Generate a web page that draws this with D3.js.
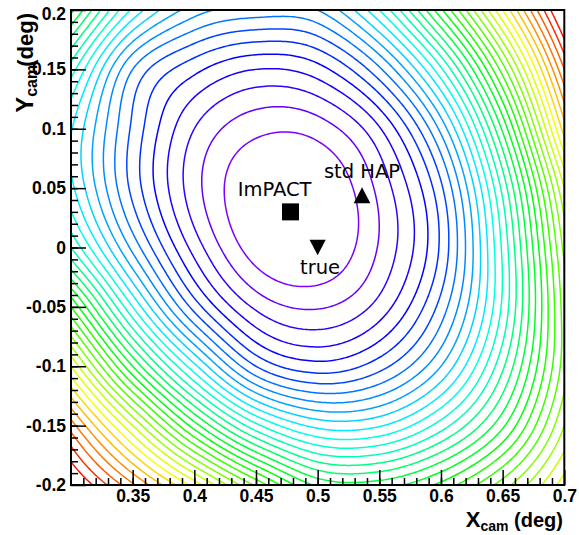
<!DOCTYPE html>
<html>
<head>
<meta charset="utf-8">
<script src="https://cdn.jsdelivr.net/npm/d3@7"></script>
<style>
  html, body { margin: 0; padding: 0; background: #ffffff; }
  svg { display: block; }
</style>
</head>
<body>
<svg id="chart" width="579" height="535"></svg>
<script>
// Likelihood surface sampled every 0.05 deg, in units of the contour step.
const gridX = [0.30, 0.35, 0.40, 0.45, 0.50, 0.55, 0.60, 0.65, 0.70];
const gridY = [0.20, 0.15, 0.10, 0.05, 0.00, -0.05, -0.10, -0.15, -0.20];
const rowY020  = [19.3, 12.8,  9.5,  8.6,  9.0, 13.0, 19.8, 28.0, 37.0];
const rowY015  = [14.5,  8.0,  5.3,  4.0,  4.6,  7.8, 13.8, 22.5, 33.0];
const rowY010  = [12.1,  6.8,  3.0,  1.3, 1.45,  3.9,  9.3, 18.2, 29.5];
const rowY005  = [12.3,  6.7,  2.4, 0.05, -0.09, 2.3,  6.8, 15.3, 26.0];
const rowY000  = [15.0,  8.7,  3.6, 0.45, -0.03, 2.1,  6.2, 14.2, 24.3];
const rowYm005 = [21.0, 13.0,  6.6,  2.8,  1.9,  3.4,  7.4, 14.2, 23.5];
const rowYm010 = [27.0, 19.0, 12.3,  7.0,  5.4,  6.6, 10.0, 15.8, 23.5];
const rowYm015 = [32.5, 26.0, 19.5, 14.3, 11.7, 11.9, 14.5, 18.8, 25.0];
const rowYm020 = [36.5, 32.2, 27.6, 22.8, 18.8, 18.5, 20.3, 23.5, 27.5];

// Contour levels and palette size
const contourLevels = d3.range(1, 36);
const paletteLevels = 36;

// Axis ticks
const xMajorTicks = [0.35, 0.40, 0.45, 0.50, 0.55, 0.60, 0.65, 0.70];
const yMajorTicks = [-0.20, -0.15, -0.10, -0.05, 0.00, 0.05, 0.10, 0.15, 0.20];
const xMinorTicks = d3.range(31, 70).map(d => d / 100);
const yMinorTicks = d3.range(-19, 20).map(d => d / 100);

// Reconstructed source directions
const fitNames  = ["ImPACT", "std HAP", "true"];
const fitX      = [0.478, 0.536, 0.500];
const fitY      = [0.030, 0.044, 0.000];
const fitShape  = ["square", "up", "down"];
const labelX    = [0.4352, 0.5051, 0.4857];
const labelY    = [0.0436, 0.0583, -0.0223];

const svg = d3.select("#chart");
const W = 579, H = 535;
const plot = { left: 71, right: 564.3, top: 10, bottom: 485 };

svg.append("rect").attr("width", W).attr("height", H).attr("fill", "#ffffff");

const x = d3.scaleLinear().domain([0.3, 0.7]).range([plot.left, plot.right]);
const y = d3.scaleLinear().domain([-0.2, 0.2]).range([plot.bottom, plot.top]);

// ---- smooth surface from the coarse grid (Catmull-Rom) ----
const rows = [rowY020, rowY015, rowY010, rowY005, rowY000, rowYm005, rowYm010, rowYm015, rowYm020];
const nG = gridX.length, mG = gridY.length;
function g(i, j) {
  // linear extension beyond the sampled border
  if (i < 0) return 2 * g(0, j) - g(1, j);
  if (i >= nG) return 2 * g(nG - 1, j) - g(nG - 2, j);
  if (j < 0) return 2 * g(i, 0) - g(i, 1);
  if (j >= mG) return 2 * g(i, mG - 1) - g(i, mG - 2);
  return rows[j][i];
}
function cr(p0, p1, p2, p3, t) {
  return p1 + 0.5 * t * (p2 - p0 + t * (2 * p0 - 5 * p1 + 4 * p2 - p3 + t * (3 * (p1 - p2) + p3 - p0)));
}
function surface(u, v) {
  const i = Math.max(0, Math.min(nG - 2, Math.floor(u)));
  const j = Math.max(0, Math.min(mG - 2, Math.floor(v)));
  const tu = u - i, tv = v - j;
  const col = [];
  for (let dj = -1; dj <= 2; dj++) {
    col.push(cr(g(i - 1, j + dj), g(i, j + dj), g(i + 1, j + dj), g(i + 2, j + dj), tu));
  }
  return cr(col[0], col[1], col[2], col[3], tv);
}

const step = 0.002, pad = 2;
const n = Math.round(0.4 / step) + 1 + 2 * pad;
const values = new Float64Array(n * n);
for (let b = 0; b < n; b++) {
  for (let a = 0; a < n; a++) {
    const dx = 0.3 + (a - pad) * step;
    const dy = 0.2 - (b - pad) * step;
    values[b * n + a] = surface((dx - 0.3) / 0.05, (0.2 - dy) / 0.05);
  }
}

const contours = d3.contours().size([n, n]).thresholds(contourLevels)(values);

const toPlot = d3.geoTransform({
  point: function (cx, cy) {
    const dx = 0.3 + (cx - 0.5 - pad) * step;
    const dy = 0.2 - (cy - 0.5 - pad) * step;
    this.stream.point(x(dx), y(dy));
  }
});
const path = d3.geoPath(toPlot);

function levelColor(k) {
  const idx = Math.floor(0.01 + k * 50 / paletteLevels);
  const hue = 280 - (idx + 1) * 5.6;
  return d3.hsl(hue, 1, 0.5).formatHex();
}

svg.append("clipPath").attr("id", "frameClip")
  .append("rect")
  .attr("x", plot.left).attr("y", plot.top)
  .attr("width", plot.right - plot.left).attr("height", plot.bottom - plot.top);

svg.append("g").attr("clip-path", "url(#frameClip)")
  .selectAll("path")
  .data(contours)
  .join("path")
  .attr("d", path)
  .attr("fill", "none")
  .attr("stroke", d => levelColor(d.value))
  .attr("stroke-width", 1.5)
  .attr("stroke-linejoin", "round");

// ---- axes ----
const tickFont = "'Liberation Sans', Arial, Helvetica, sans-serif";
const fmt = d => String(+d.toFixed(2));

svg.append("g").attr("transform", `translate(0,${plot.bottom})`)
  .call(d3.axisBottom(x).tickValues(xMajorTicks).tickSize(-15).tickPadding(5).tickFormat(fmt));
svg.append("g").attr("transform", `translate(0,${plot.bottom})`)
  .call(d3.axisBottom(x).tickValues(xMinorTicks).tickSize(-7).tickFormat(""));

const yAxis = svg.append("g").attr("transform", `translate(${plot.left},0)`)
  .call(d3.axisLeft(y).tickValues(yMajorTicks).tickSize(-15).tickPadding(5).tickFormat(fmt));
svg.append("g").attr("transform", `translate(${plot.left},0)`)
  .call(d3.axisLeft(y).tickValues(yMinorTicks).tickSize(-7).tickFormat(""));

svg.selectAll(".domain").remove();
svg.selectAll(".tick line").attr("stroke", "#000").attr("stroke-width", 1.5);
svg.selectAll(".tick text")
  .attr("fill", "#000")
  .style("font-family", tickFont)
  .style("font-weight", "bold")
  .style("font-size", "17.5px");
yAxis.selectAll(".tick text").filter(d => Math.abs(d - 0.2) < 1e-9).attr("dy", "0.57em");

// frame
svg.append("rect")
  .attr("x", plot.left).attr("y", plot.top)
  .attr("width", plot.right - plot.left).attr("height", plot.bottom - plot.top)
  .attr("fill", "none").attr("stroke", "#000").attr("stroke-width", 2);

// ---- axis titles ----
const xt = svg.append("text")
  .attr("x", 563).attr("y", 527)
  .attr("text-anchor", "end")
  .style("font-family", tickFont).style("font-weight", "bold").style("font-size", "20px");
xt.append("tspan").style("font-size", "22px").text("X");
xt.append("tspan").attr("dy", 4).style("font-size", "14px").text("cam");
xt.append("tspan").attr("dy", -4).text(" (deg)");

const yt = svg.append("text")
  .attr("transform", "translate(33,13) rotate(-90)")
  .attr("text-anchor", "end")
  .style("font-family", tickFont).style("font-weight", "bold").style("font-size", "22px");
yt.append("tspan").style("font-size", "24px").text("Y");
yt.append("tspan").attr("dy", 4).style("font-size", "16px").text("cam");
yt.append("tspan").attr("dy", -4).attr("dx", -2).text("(deg)");

// ---- markers and labels ----
const triUp = {
  draw(ctx, size) {
    const w = Math.sqrt(size) / 2, h = Math.sqrt(size) * 0.96 / 2;
    ctx.moveTo(0, -h); ctx.lineTo(w, h); ctx.lineTo(-w, h); ctx.closePath();
  }
};
const triDown = {
  draw(ctx, size) {
    const w = Math.sqrt(size) / 2, h = Math.sqrt(size) * 0.96 / 2;
    ctx.moveTo(0, h); ctx.lineTo(w, -h); ctx.lineTo(-w, -h); ctx.closePath();
  }
};
const shapeType = { square: d3.symbolSquare, up: triUp, down: triDown };
const shapeSize = { square: 17 * 17, up: 16.7 * 16.7, down: 16.2 * 16.2 };

svg.append("g").selectAll("path")
  .data(fitNames.map((name, i) => ({ name, x: fitX[i], y: fitY[i], shape: fitShape[i] })))
  .join("path")
  .attr("transform", d => `translate(${x(d.x)},${y(d.y)})`)
  .attr("d", d => d3.symbol().type(shapeType[d.shape]).size(shapeSize[d.shape])())
  .attr("fill", "#000");

svg.append("g").selectAll("text")
  .data(fitNames.map((name, i) => ({ name, x: labelX[i], y: labelY[i] })))
  .join("text")
  .attr("x", d => x(d.x)).attr("y", d => y(d.y))
  .style("font-family", "'DejaVu Sans', Verdana, sans-serif")
  .style("font-size", "19.5px")
  .attr("fill", "#000")
  .text(d => d.name);
</script>
</body>
</html>
